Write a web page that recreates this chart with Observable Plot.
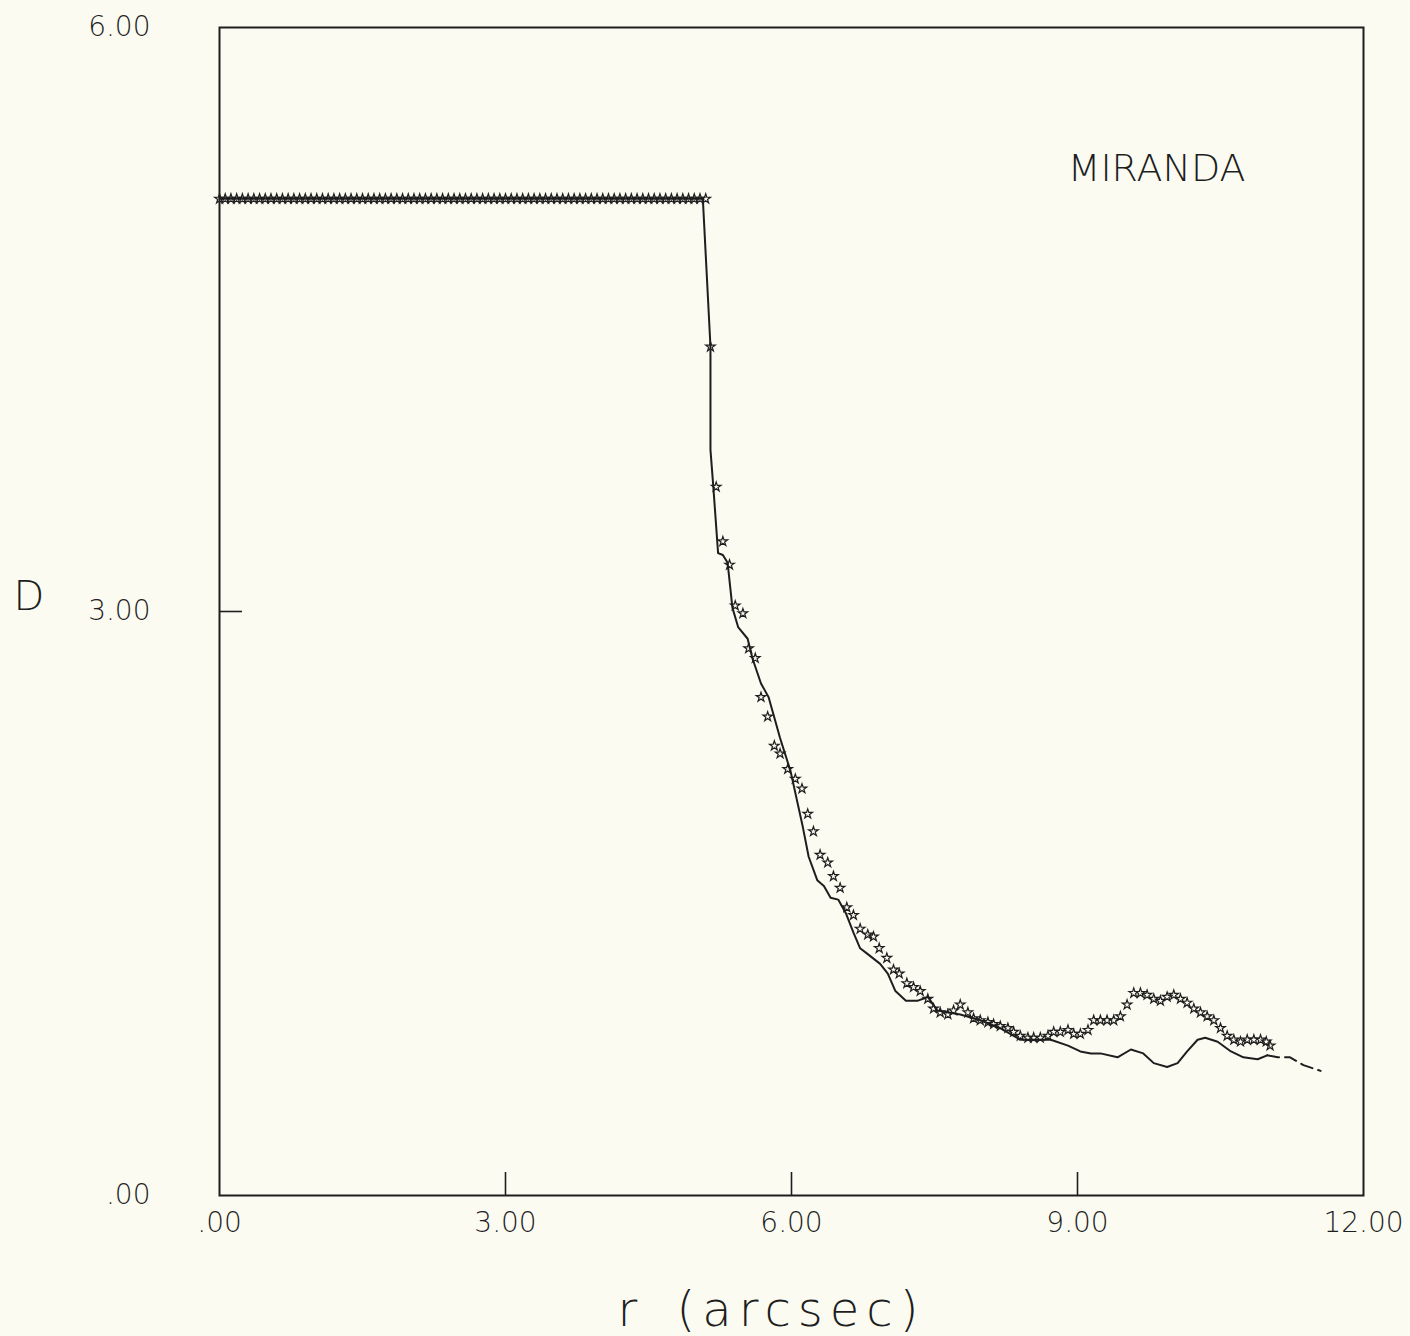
<!DOCTYPE html>
<html><head><meta charset="utf-8">
<script src="https://cdn.jsdelivr.net/npm/d3@7"></script>
<script src="https://cdn.jsdelivr.net/npm/@observablehq/plot@0.6"></script>
<style>html,body{margin:0;padding:0;background:#fbfbf2;}</style>
</head><body><div id="chart"></div>
<script>
// ---- data ----
const titleText = "MIRANDA";
const xLabelText = "r (arcsec)";
const yLabelText = "D";
const xTickMarks = [3, 6, 9];
const xTickLabels = [0, 3, 6, 9, 12];
const yTickMarks = [3];
const yTickLabels = [0, 3, 6];

// solid curve (model)
const lineR = [0.00, 5.07, 5.15, 5.15, 5.18, 5.23, 5.28, 5.33, 5.38, 5.44, 5.54, 5.59, 5.68, 5.76, 5.88, 5.99,
  6.12, 6.18, 6.27, 6.34, 6.41, 6.49, 6.57, 6.65, 6.72, 6.80, 6.93, 7.01, 7.09, 7.20, 7.32, 7.43, 7.53,
  7.77, 7.98, 8.19, 8.40, 8.72, 8.90, 9.03, 9.14, 9.24, 9.42, 9.56, 9.69, 9.80, 9.94, 10.05, 10.15,
  10.26, 10.34, 10.47, 10.61, 10.74, 10.89, 10.99];
const lineD = [5.12, 5.12, 4.36, 3.83, 3.64, 3.30, 3.29, 3.25, 3.02, 2.92, 2.86, 2.76, 2.63, 2.56, 2.35, 2.18,
  1.89, 1.74, 1.62, 1.59, 1.53, 1.52, 1.45, 1.35, 1.27, 1.24, 1.19, 1.14, 1.05, 1.00, 1.00, 1.02, 0.95,
  0.93, 0.90, 0.86, 0.80, 0.80, 0.77, 0.74, 0.73, 0.73, 0.71, 0.75, 0.73, 0.68, 0.66, 0.68, 0.74,
  0.80, 0.81, 0.79, 0.74, 0.71, 0.70, 0.72];
// broken tail of the curve
const tailR = [10.99, 11.10, 11.23, 11.37, 11.55];
const tailD = [0.72, 0.71, 0.71, 0.67, 0.64];

// star points (observations): plateau
const plateauD = 5.12;
const plateauR = [0.00,0.06,0.12,0.18,0.24,0.30,0.36,0.42,0.48,0.54,0.60,0.66,0.72,0.78,0.84,0.90,0.96,1.02,
  1.08,1.14,1.20,1.26,1.32,1.38,1.44,1.50,1.56,1.62,1.68,1.74,1.80,1.86,1.92,1.98,2.04,2.10,2.16,2.22,2.28,
  2.34,2.40,2.46,2.52,2.58,2.64,2.70,2.76,2.82,2.88,2.94,3.00,3.06,3.12,3.18,3.24,3.30,3.36,3.42,3.48,3.54,
  3.60,3.66,3.72,3.78,3.84,3.90,3.96,4.02,4.08,4.14,4.20,4.26,4.32,4.38,4.44,4.50,4.56,4.62,4.68,4.74,4.80,
  4.86,4.92,4.98,5.04,5.10];
// star points: decline
const starR = [5.15, 5.21, 5.28, 5.35, 5.41, 5.49, 5.55, 5.62, 5.68, 5.75, 5.82, 5.88, 5.96, 6.04, 6.11, 6.17,
  6.23, 6.30, 6.38, 6.44, 6.51, 6.58, 6.65, 6.72, 6.80, 6.86, 6.92, 7.00, 7.07, 7.13, 7.21, 7.28, 7.35,
  7.43, 7.49, 7.56, 7.64, 7.70, 7.77, 7.85, 7.91, 7.98, 8.06, 8.12, 8.19, 8.27, 8.33, 8.40, 8.48, 8.54,
  8.61, 8.69, 8.75, 8.82, 8.90, 8.96, 9.03, 9.11, 9.17, 9.24, 9.31, 9.38, 9.45, 9.52, 9.59, 9.66, 9.73,
  9.80, 9.87, 9.94, 10.01, 10.08, 10.15, 10.22, 10.29, 10.36, 10.43, 10.50, 10.57, 10.64, 10.71, 10.78,
  10.85, 10.92, 10.98, 11.02];
const starD = [4.36, 3.64, 3.36, 3.24, 3.03, 2.99, 2.81, 2.76, 2.56, 2.46, 2.31, 2.27, 2.19, 2.14, 2.09, 1.96,
  1.87, 1.75, 1.71, 1.64, 1.58, 1.48, 1.44, 1.37, 1.34, 1.33, 1.27, 1.22, 1.16, 1.14, 1.09, 1.07, 1.05,
  1.01, 0.96, 0.94, 0.93, 0.95, 0.98, 0.94, 0.91, 0.90, 0.89, 0.88, 0.87, 0.86, 0.84, 0.82, 0.81, 0.81,
  0.81, 0.82, 0.84, 0.84, 0.85, 0.83, 0.83, 0.85, 0.90, 0.90, 0.90, 0.90, 0.92, 0.98, 1.04, 1.04, 1.03,
  1.01, 1.00, 1.02, 1.03, 1.01, 0.99, 0.96, 0.94, 0.92, 0.90, 0.86, 0.82, 0.80, 0.79, 0.80,
  0.80, 0.80, 0.79, 0.77];

// ---- build tables ----
const lineRows = lineR.map((r, i) => ({r, d: lineD[i]}));
const tailRows = tailR.map((r, i) => ({r, d: tailD[i]}));
const starRows = plateauR.map(r => ({r, d: plateauD})).concat(starR.map((r, i) => ({r, d: starD[i]})));
const fmt = v => v === 0 ? ".00" : v.toFixed(2);
const ink = "#1e1e1e";

const chart = Plot.plot({
  width: 1410, height: 1336,
  marginLeft: 219, marginRight: 47, marginTop: 27, marginBottom: 141,
  x: {domain: [0, 12]},
  y: {domain: [0, 6]},
  style: {background: "#fbfbf2", color: ink, fontFamily: "DejaVu Sans", fontSize: "28px"},
  marks: [
    Plot.frame({stroke: ink, strokeWidth: 2}),
    Plot.axisX(xTickMarks, {tickSize: -23, strokeWidth: 1.6, tickFormat: () => "", label: null}),
    Plot.axisX(xTickLabels, {tickSize: 0, tickPadding: 17, tickFormat: fmt, fontSize: 28, fontWeight: 200, label: null}),
    Plot.axisY(yTickMarks, {tickSize: -23, strokeWidth: 1.6, tickFormat: () => "", label: null}),
    Plot.axisY(yTickLabels, {tickSize: 0, tickPadding: 69, tickFormat: fmt, fontSize: 28, fontWeight: 200, label: null}),
    Plot.line(lineRows, {x: "r", y: "d", stroke: ink, strokeWidth: 2}),
    Plot.line(tailRows, {x: "r", y: "d", stroke: ink, strokeWidth: 2, strokeDasharray: "12,6"}),
    Plot.dot(starRows, {x: "r", y: "d", symbol: "star", r: 3, fill: "none", stroke: ink, strokeWidth: 1.2}),
    Plot.text([titleText], {frameAnchor: "top-right", dx: -118, dy: 141, textAnchor: "end", lineAnchor: "middle", fontSize: 38, fontWeight: 200}),
    Plot.text([yLabelText], {frameAnchor: "left", dx: -206, dy: -14, textAnchor: "start", lineAnchor: "middle", fontSize: 40, fontWeight: 200}),
    Plot.text([xLabelText], {frameAnchor: "bottom", dx: -20, dy: 115, lineAnchor: "middle", fontSize: 48, fontWeight: 200})
  ]
});
document.getElementById("chart").appendChild(chart);
d3.select(chart).selectAll("text")
  .filter(function() { return this.textContent === xLabelText; })
  .style("letter-spacing", "7px")
  .style("word-spacing", "10px");
</script>
</body></html>
